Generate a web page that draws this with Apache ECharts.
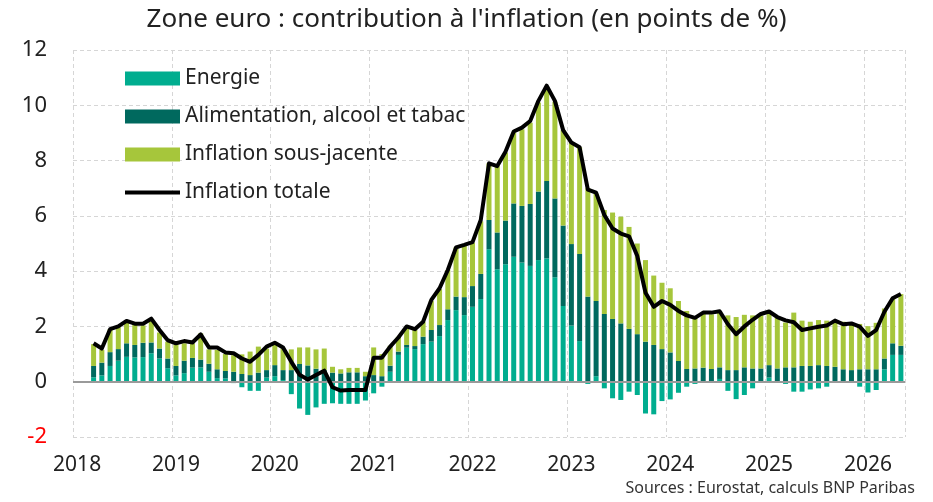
<!DOCTYPE html>
<html>
<head>
<meta charset="utf-8">
<script src="https://cdn.jsdelivr.net/npm/echarts@6/dist/echarts.min.js"></script>
<style>
  html, body { margin: 0; padding: 0; background: #fff; }
  #chart { width: 933px; height: 502px; }
</style>
</head>
<body>
<div id="chart"></div>
<script>
// années affichées sur l'axe
const years = ['2018', '2019', '2020', '2021', '2022', '2023', '2024', '2025', '2026'];
const monthsLastYear = 5; // données jusqu'en mai 2026

// contributions (points de %), une ligne par année, janv. -> déc.
const energie = [
  null, null, 0.16, 0.23, 0.57, 0.76, 0.90, 0.88, 0.89, 1.03, 0.84, 0.49,
  0.23, 0.31, 0.51, 0.52, 0.36, 0.13, 0.12, -0.05, -0.20, -0.33, -0.33, 0.15,
  0.20, 0.06, -0.45, -0.97, -1.20, -0.93, -0.80, -0.78, -0.80, -0.80, -0.80, -0.68,
  -0.42, -0.18, 0.36, 0.97, 1.23, 1.18, 1.36, 1.45, 1.65, 2.23, 2.59, 2.41,
  2.71, 2.99, 4.79, 4.07, 4.25, 4.52, 4.31, 4.19, 4.40, 4.46, 3.78, 2.74,
  2.03, 1.47, -0.08, 0.20, -0.24, -0.60, -0.66, -0.36, -0.48, -1.15, -1.18, -0.70,
  -0.64, -0.40, -0.18, -0.08, 0.02, -0.02, 0.10, -0.33, -0.63, -0.48, -0.24, 0.00,
  0.15, 0.00, -0.08, -0.36, -0.36, -0.28, -0.24, -0.18, 0.02, -0.03, -0.03, -0.18,
  -0.39, -0.30, 0.45, 0.97, 0.97
];
const alimentation = [
  null, null, 0.41, 0.46, 0.50, 0.42, 0.49, 0.45, 0.52, 0.39, 0.36, 0.35,
  0.34, 0.45, 0.35, 0.28, 0.29, 0.32, 0.27, 0.36, 0.28, 0.24, 0.33, 0.27,
  0.40, 0.36, 0.42, 0.64, 0.59, 0.47, 0.42, 0.33, 0.30, 0.34, 0.34, 0.20,
  0.24, 0.20, 0.22, 0.12, 0.10, 0.11, 0.27, 0.42, 0.40, 0.39, 0.49, 0.65,
  0.75, 0.91, 1.06, 1.33, 1.58, 1.93, 2.05, 2.24, 2.48, 2.80, 2.85, 2.91,
  2.95, 3.15, 3.08, 2.72, 2.45, 2.27, 2.11, 1.91, 1.72, 1.45, 1.33, 1.18,
  1.06, 0.75, 0.46, 0.48, 0.49, 0.46, 0.42, 0.42, 0.42, 0.52, 0.48, 0.48,
  0.45, 0.48, 0.52, 0.52, 0.57, 0.57, 0.60, 0.57, 0.52, 0.45, 0.42, 0.45,
  0.45, 0.45, 0.39, 0.42, 0.33
];
const sousJacente = [
  null, null, 0.79, 0.46, 0.83, 0.79, 0.75, 0.74, 0.63, 0.81, 0.58, 0.61,
  0.78, 0.63, 0.53, 0.95, 0.52, 0.70, 0.61, 0.60, 0.71, 0.85, 0.94, 0.78,
  0.79, 0.78, 0.75, 0.60, 0.65, 0.70, 0.78, 0.21, 0.15, 0.16, 0.16, 0.16,
  1.00, 0.80, 0.72, 0.54, 0.66, 0.58, 0.54, 1.06, 1.30, 1.42, 1.78, 1.85,
  1.57, 1.90, 2.05, 2.40, 2.46, 2.56, 2.77, 2.94, 3.22, 3.42, 3.50, 3.45,
  3.67, 3.86, 3.92, 3.88, 3.76, 3.85, 3.86, 3.69, 3.28, 2.95, 2.51, 2.40,
  2.32, 2.17, 2.10, 1.85, 1.97, 1.98, 2.02, 1.98, 1.92, 1.90, 1.92, 1.92,
  1.90, 1.84, 1.62, 1.98, 1.64, 1.60, 1.63, 1.64, 1.65, 1.72, 1.69, 1.64,
  1.56, 1.68, 1.81, 1.63, 1.87
];
const totale = [
  null, null, 1.39, 1.20, 1.90, 2.00, 2.20, 2.10, 2.10, 2.28, 1.87, 1.50,
  1.39, 1.47, 1.42, 1.71, 1.24, 1.24, 1.06, 1.03, 0.84, 0.72, 0.97, 1.27,
  1.41, 1.24, 0.72, 0.25, 0.08, 0.24, 0.40, -0.20, -0.32, -0.30, -0.30, -0.30,
  0.87, 0.87, 1.27, 1.60, 2.00, 1.90, 2.17, 2.96, 3.38, 4.04, 4.86, 4.95,
  5.05, 5.85, 7.90, 7.80, 8.32, 9.05, 9.19, 9.43, 10.16, 10.71, 10.16, 9.10,
  8.65, 8.48, 6.95, 6.84, 6.03, 5.54, 5.36, 5.26, 4.55, 3.22, 2.71, 2.92,
  2.78, 2.56, 2.40, 2.31, 2.50, 2.50, 2.55, 2.08, 1.72, 2.00, 2.24, 2.45,
  2.54, 2.34, 2.22, 2.15, 1.87, 1.93, 1.99, 2.03, 2.21, 2.08, 2.11, 1.99,
  1.66, 1.87, 2.53, 3.02, 3.17
];

// catégories mensuelles "2018-01" ... "2026-05"
const mois = [];
years.forEach((y, k) => {
  const n = k === years.length - 1 ? monthsLastYear : 12;
  for (let m = 1; m <= n; m++) mois.push(y + '-' + String(m).padStart(2, '0'));
});

const font = 'Noto Sans';
const chart = echarts.init(document.getElementById('chart'));

const option = {
  animation: false,
  textStyle: { fontFamily: font },
  title: [
    {
      text: "Zone euro : contribution à l'inflation (en points de %)",
      left: 'center',
      top: 2,
      textStyle: { fontSize: 26, fontWeight: 'normal', color: '#222', fontFamily: font }
    },
    {
      text: 'Sources : Eurostat, calculs BNP Paribas',
      right: 13,
      bottom: 1,
      textStyle: { fontSize: 16, fontWeight: 'normal', color: '#333', fontFamily: font }
    }
  ],
  legend: {
    orient: 'vertical',
    left: 120,
    top: 63,
    itemWidth: 55,
    itemHeight: 14,
    itemGap: 17,
    textStyle: { fontSize: 21, color: '#222', fontFamily: font, backgroundColor: '#fff' },
    data: [
      { name: 'Energie', icon: 'rect' },
      { name: 'Alimentation, alcool et tabac', icon: 'rect' },
      { name: 'Inflation sous-jacente', icon: 'rect' },
      { name: 'Inflation totale', icon: 'path://M0,0L55,0L55,4L0,4Z' }
    ]
  },
  grid: { left: 73, right: 28, top: 50, bottom: 65 },
  xAxis: {
    type: 'category',
    data: mois,
    axisLine: { show: false },
    axisTick: { show: false },
    axisLabel: {
      interval: (i, v) => v.endsWith('-01'),
      formatter: v => v.slice(0, 4),
      fontSize: 21,
      color: '#222',
      margin: 18
    },
    splitLine: {
      show: true,
      interval: (i, v) => i % 12 === 0,
      lineStyle: { color: '#d6d6d6', type: [4, 3], width: 1 }
    }
  },
  yAxis: {
    type: 'value',
    min: -2,
    max: 12,
    interval: 2,
    axisLine: { show: false },
    axisTick: { show: false },
    axisLabel: {
      fontSize: 22,
      margin: 26,
      color: v => (v < 0 ? '#ff0000' : '#222')
    },
    splitLine: { lineStyle: { color: '#d6d6d6', type: [4, 3], width: 1 } }
  },
  series: [
    {
      name: 'Energie',
      type: 'bar',
      stack: 'contrib',
      barWidth: 5,
      itemStyle: { color: '#00ad8f' },
      data: energie,
      markLine: {
        silent: true,
        symbol: 'none',
        label: { show: false },
        lineStyle: { color: '#9a9a9a', type: 'solid', width: 2 },
        data: [{ yAxis: 0 }]
      }
    },
    {
      name: 'Alimentation, alcool et tabac',
      type: 'bar',
      stack: 'contrib',
      barWidth: 5,
      itemStyle: { color: '#00695e' },
      data: alimentation
    },
    {
      name: 'Inflation sous-jacente',
      type: 'bar',
      stack: 'contrib',
      barWidth: 5,
      itemStyle: { color: '#a6c63b' },
      data: sousJacente
    },
    {
      name: 'Inflation totale',
      type: 'line',
      data: totale,
      symbol: 'none',
      z: 5,
      itemStyle: { color: '#000' },
      lineStyle: { color: '#000', width: 4, join: 'round' }
    }
  ]
};

chart.setOption(option);
</script>
</body>
</html>
